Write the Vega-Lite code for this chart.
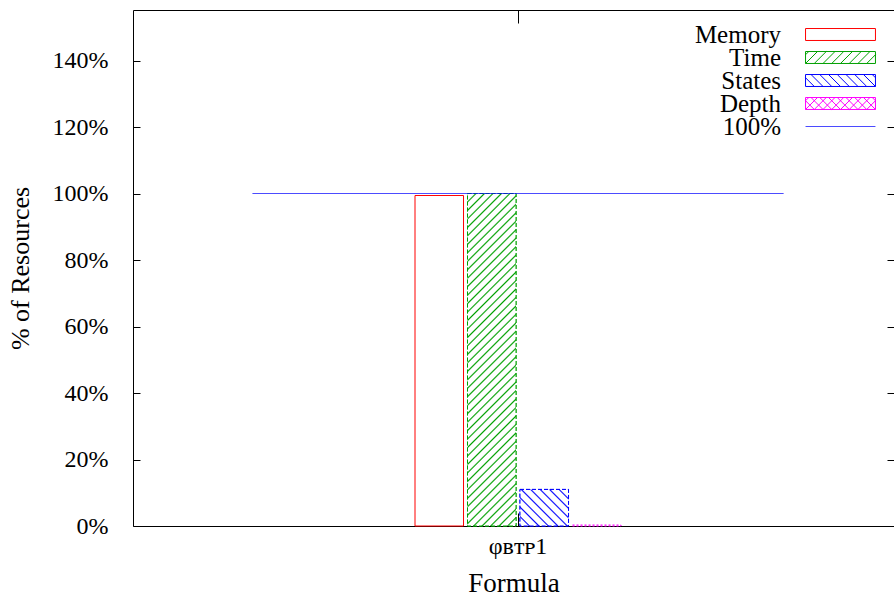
{
"$schema":"https://vega.github.io/schema/vega-lite/v6.json",
"width":761,"height":516,
"autosize":{"type":"none"},
"padding":{"left":133,"top":10,"right":0,"bottom":74},
"background":"white",
"config":{
"font":"Liberation Serif",
"view":{"stroke":null},
"axis":{"domainColor":"#000","tickColor":"#000","labelColor":"#000","titleColor":"#000","labelFont":"Liberation Serif","titleFont":"Liberation Serif","titleFontWeight":"normal","grid":false,"domainWidth":1,"tickWidth":1},
"legend":{"orient":"none","padding":0,"symbolSize":529,"symbolStrokeWidth":1,"labelFont":"Liberation Serif","labelFontSize":25,"labelColor":"#000","labelAlign":"right","labelOffset":-72,"labelLimit":300}
},
"data":{"values":[
{"formula":"φʙᴛᴘ1","series":"Memory","pct":99.4},
{"formula":"φʙᴛᴘ1","series":"Time","pct":100},
{"formula":"φʙᴛᴘ1","series":"States","pct":11.0},
{"formula":"φʙᴛᴘ1","series":"Depth","pct":0.3},
{"formula":"φʙᴛᴘ1","series":"100%","pct":100}
]},
"layer":[
{
"transform":[{"filter":"datum.series === 'Memory'"}],
"mark":{"type":"bar","strokeWidth":1,"fill":"transparent"},
"encoding":{
"x":{"field":"formula","type":"nominal","scale":{"paddingInner":0.2377,"paddingOuter":1,"align":0.5082},"axis":{"orient":"bottom","title":"Formula","labelAngle":0,"tickSize":-13,"labelPadding":40,"labelBaseline":"alphabetic","titlePadding":12,"labelFontSize":24,"titleFontSize":27,"labelLimit":300}},
"xOffset":{"field":"series","type":"nominal","scale":{"domain":["Memory","Time","States","Depth"],"paddingInner":0.076,"paddingOuter":0.038}},
"y":{"field":"pct","type":"quantitative","scale":{"domain":[0,155.19],"nice":false},"axis":{"orient":"left","title":"% of Resources","values":[0,20,40,60,80,100,120,140],"labelExpr":"datum.value + '%'","tickSize":-7,"labelPadding":32,"titlePadding":19,"labelFontSize":24,"titleFontSize":26}},
"stroke":{"field":"series","type":"nominal","scale":{"domain":["Memory"],"range":["#ff0000"]},"legend":{"title":null,"legendX":695,"legendY":12,"symbolType":"M-3.04,-0.52H3.04V0.52H-3.04Z"}}
}
},
{
"transform":[{"filter":"datum.series === 'Time'"}],
"mark":{"type":"bar","strokeWidth":1,"fill":"#ffffff","strokeDash":[4,2]},
"encoding":{
"x":{"field":"formula","type":"nominal","scale":{"paddingInner":0.2377,"paddingOuter":1,"align":0.5082},"axis":null},
"xOffset":{"field":"series","type":"nominal","scale":{"domain":["Memory","Time","States","Depth"],"paddingInner":0.076,"paddingOuter":0.038}},
"y":{"field":"pct","type":"quantitative","scale":{"domain":[0,155.19],"nice":false},"axis":null},
"stroke":{"field":"series","type":"nominal","scale":{"domain":["Time"],"range":["#00a000"]},"legend":{"title":null,"legendX":695,"legendY":35,"symbolType":"M-3.04,-0.52H3.04V0.52H-3.04ZM-3.04,-0.24L-2.76,-0.52M-3.04,0.52L-2,-0.52M-2.28,0.52L-1.24,-0.52M-1.52,0.52L-0.48,-0.52M-0.76,0.52L0.28,-0.52M0,0.52L1.04,-0.52M0.76,0.52L1.8,-0.52M1.52,0.52L2.56,-0.52M2.28,0.52L3.04,-0.24"}}
}
},
{
"transform":[{"filter":"datum.series === 'Time'"}],
"mark":{"type":"bar","strokeWidth":1,"stroke":"#00a000","strokeDash":[4,2],"fill":{"gradient":"linear","x1":0,"y1":0,"x2":0.1635,"y2":1.122,"stops":[
{"offset":0,"color":"#00a000"},{"offset":0.0042,"color":"#fff"},
{"offset":0.0180,"color":"#fff"},{"offset":0.0222,"color":"#00a000"},{"offset":0.0264,"color":"#fff"},
{"offset":0.0402,"color":"#fff"},{"offset":0.0444,"color":"#00a000"},{"offset":0.0486,"color":"#fff"},
{"offset":0.0625,"color":"#fff"},{"offset":0.0667,"color":"#00a000"},{"offset":0.0709,"color":"#fff"},
{"offset":0.0847,"color":"#fff"},{"offset":0.0889,"color":"#00a000"},{"offset":0.0931,"color":"#fff"},
{"offset":0.1069,"color":"#fff"},{"offset":0.1111,"color":"#00a000"},{"offset":0.1153,"color":"#fff"},
{"offset":0.1291,"color":"#fff"},{"offset":0.1333,"color":"#00a000"},{"offset":0.1375,"color":"#fff"},
{"offset":0.1514,"color":"#fff"},{"offset":0.1556,"color":"#00a000"},{"offset":0.1598,"color":"#fff"},
{"offset":0.1736,"color":"#fff"},{"offset":0.1778,"color":"#00a000"},{"offset":0.1820,"color":"#fff"},
{"offset":0.1958,"color":"#fff"},{"offset":0.2000,"color":"#00a000"},{"offset":0.2042,"color":"#fff"},
{"offset":0.2180,"color":"#fff"},{"offset":0.2222,"color":"#00a000"},{"offset":0.2264,"color":"#fff"},
{"offset":0.2402,"color":"#fff"},{"offset":0.2444,"color":"#00a000"},{"offset":0.2486,"color":"#fff"},
{"offset":0.2625,"color":"#fff"},{"offset":0.2667,"color":"#00a000"},{"offset":0.2709,"color":"#fff"},
{"offset":0.2847,"color":"#fff"},{"offset":0.2889,"color":"#00a000"},{"offset":0.2931,"color":"#fff"},
{"offset":0.3069,"color":"#fff"},{"offset":0.3111,"color":"#00a000"},{"offset":0.3153,"color":"#fff"},
{"offset":0.3291,"color":"#fff"},{"offset":0.3333,"color":"#00a000"},{"offset":0.3375,"color":"#fff"},
{"offset":0.3514,"color":"#fff"},{"offset":0.3556,"color":"#00a000"},{"offset":0.3598,"color":"#fff"},
{"offset":0.3736,"color":"#fff"},{"offset":0.3778,"color":"#00a000"},{"offset":0.3820,"color":"#fff"},
{"offset":0.3958,"color":"#fff"},{"offset":0.4000,"color":"#00a000"},{"offset":0.4042,"color":"#fff"},
{"offset":0.4180,"color":"#fff"},{"offset":0.4222,"color":"#00a000"},{"offset":0.4264,"color":"#fff"},
{"offset":0.4402,"color":"#fff"},{"offset":0.4444,"color":"#00a000"},{"offset":0.4486,"color":"#fff"},
{"offset":0.4625,"color":"#fff"},{"offset":0.4667,"color":"#00a000"},{"offset":0.4709,"color":"#fff"},
{"offset":0.4847,"color":"#fff"},{"offset":0.4889,"color":"#00a000"},{"offset":0.4931,"color":"#fff"},
{"offset":0.5069,"color":"#fff"},{"offset":0.5111,"color":"#00a000"},{"offset":0.5153,"color":"#fff"},
{"offset":0.5291,"color":"#fff"},{"offset":0.5333,"color":"#00a000"},{"offset":0.5375,"color":"#fff"},
{"offset":0.5514,"color":"#fff"},{"offset":0.5556,"color":"#00a000"},{"offset":0.5598,"color":"#fff"},
{"offset":0.5736,"color":"#fff"},{"offset":0.5778,"color":"#00a000"},{"offset":0.5820,"color":"#fff"},
{"offset":0.5958,"color":"#fff"},{"offset":0.6000,"color":"#00a000"},{"offset":0.6042,"color":"#fff"},
{"offset":0.6180,"color":"#fff"},{"offset":0.6222,"color":"#00a000"},{"offset":0.6264,"color":"#fff"},
{"offset":0.6402,"color":"#fff"},{"offset":0.6444,"color":"#00a000"},{"offset":0.6486,"color":"#fff"},
{"offset":0.6625,"color":"#fff"},{"offset":0.6667,"color":"#00a000"},{"offset":0.6709,"color":"#fff"},
{"offset":0.6847,"color":"#fff"},{"offset":0.6889,"color":"#00a000"},{"offset":0.6931,"color":"#fff"},
{"offset":0.7069,"color":"#fff"},{"offset":0.7111,"color":"#00a000"},{"offset":0.7153,"color":"#fff"},
{"offset":0.7291,"color":"#fff"},{"offset":0.7333,"color":"#00a000"},{"offset":0.7375,"color":"#fff"},
{"offset":0.7514,"color":"#fff"},{"offset":0.7556,"color":"#00a000"},{"offset":0.7598,"color":"#fff"},
{"offset":0.7736,"color":"#fff"},{"offset":0.7778,"color":"#00a000"},{"offset":0.7820,"color":"#fff"},
{"offset":0.7958,"color":"#fff"},{"offset":0.8000,"color":"#00a000"},{"offset":0.8042,"color":"#fff"},
{"offset":0.8180,"color":"#fff"},{"offset":0.8222,"color":"#00a000"},{"offset":0.8264,"color":"#fff"},
{"offset":0.8402,"color":"#fff"},{"offset":0.8444,"color":"#00a000"},{"offset":0.8486,"color":"#fff"},
{"offset":0.8625,"color":"#fff"},{"offset":0.8667,"color":"#00a000"},{"offset":0.8709,"color":"#fff"},
{"offset":0.8847,"color":"#fff"},{"offset":0.8889,"color":"#00a000"},{"offset":0.8931,"color":"#fff"},
{"offset":0.9069,"color":"#fff"},{"offset":0.9111,"color":"#00a000"},{"offset":0.9153,"color":"#fff"},
{"offset":0.9291,"color":"#fff"},{"offset":0.9333,"color":"#00a000"},{"offset":0.9375,"color":"#fff"},
{"offset":0.9514,"color":"#fff"},{"offset":0.9556,"color":"#00a000"},{"offset":0.9598,"color":"#fff"},
{"offset":0.9736,"color":"#fff"},{"offset":0.9778,"color":"#00a000"},{"offset":0.9820,"color":"#fff"},
{"offset":0.9958,"color":"#fff"},{"offset":1,"color":"#00a000"}
]}},
"encoding":{
"x":{"field":"formula","type":"nominal","scale":{"paddingInner":0.2377,"paddingOuter":1,"align":0.5082},"axis":null},
"xOffset":{"field":"series","type":"nominal","scale":{"domain":["Memory","Time","States","Depth"],"paddingInner":0.076,"paddingOuter":0.038}},
"y":{"field":"pct","type":"quantitative","scale":{"domain":[0,155.19],"nice":false},"axis":null}
}
},
{
"transform":[{"filter":"datum.series === 'States'"}],
"mark":{"type":"bar","strokeWidth":1,"fill":"#ffffff","strokeDash":[4,2]},
"encoding":{
"x":{"field":"formula","type":"nominal","scale":{"paddingInner":0.2377,"paddingOuter":1,"align":0.5082},"axis":null},
"xOffset":{"field":"series","type":"nominal","scale":{"domain":["Memory","Time","States","Depth"],"paddingInner":0.076,"paddingOuter":0.038}},
"y":{"field":"pct","type":"quantitative","scale":{"domain":[0,155.19],"nice":false},"axis":null},
"stroke":{"field":"series","type":"nominal","scale":{"domain":["States"],"range":["#0000ff"]},"legend":{"title":null,"legendX":695,"legendY":58,"symbolType":"M-3.04,-0.52H3.04V0.52H-3.04ZM3.04,-0.24L2.76,-0.52M3.04,0.52L2,-0.52M2.28,0.52L1.24,-0.52M1.52,0.52L0.48,-0.52M0.76,0.52L-0.28,-0.52M0,0.52L-1.04,-0.52M-0.76,0.52L-1.8,-0.52M-1.52,0.52L-2.56,-0.52M-2.28,0.52L-3.04,-0.24"}}
}
},
{
"transform":[{"filter":"datum.series === 'States'"}],
"mark":{"type":"bar","strokeWidth":1,"stroke":"#0000ff","strokeDash":[4,2],"fill":{"gradient":"linear","x1":0,"y1":1,"x2":1.1179,"y2":0.1562,"stops":[
{"offset":0,"color":"#0000ff"},{"offset":0.018,"color":"#fff"},
{"offset":0.0931,"color":"#fff"},{"offset":0.1111,"color":"#0000ff"},{"offset":0.1291,"color":"#fff"},
{"offset":0.2042,"color":"#fff"},{"offset":0.2222,"color":"#0000ff"},{"offset":0.2402,"color":"#fff"},
{"offset":0.3153,"color":"#fff"},{"offset":0.3333,"color":"#0000ff"},{"offset":0.3513,"color":"#fff"},
{"offset":0.4264,"color":"#fff"},{"offset":0.4444,"color":"#0000ff"},{"offset":0.4624,"color":"#fff"},
{"offset":0.5376,"color":"#fff"},{"offset":0.5556,"color":"#0000ff"},{"offset":0.5736,"color":"#fff"},
{"offset":0.6487,"color":"#fff"},{"offset":0.6667,"color":"#0000ff"},{"offset":0.6847,"color":"#fff"},
{"offset":0.7598,"color":"#fff"},{"offset":0.7778,"color":"#0000ff"},{"offset":0.7958,"color":"#fff"},
{"offset":0.8709,"color":"#fff"},{"offset":0.8889,"color":"#0000ff"},{"offset":0.9069,"color":"#fff"},
{"offset":0.982,"color":"#fff"},{"offset":1,"color":"#0000ff"}
]}},
"encoding":{
"x":{"field":"formula","type":"nominal","scale":{"paddingInner":0.2377,"paddingOuter":1,"align":0.5082},"axis":null},
"xOffset":{"field":"series","type":"nominal","scale":{"domain":["Memory","Time","States","Depth"],"paddingInner":0.076,"paddingOuter":0.038}},
"y":{"field":"pct","type":"quantitative","scale":{"domain":[0,155.19],"nice":false},"axis":null}
}
},
{
"transform":[{"filter":"datum.series === 'Depth'"}],
"mark":{"type":"bar","strokeWidth":1,"fill":"transparent","strokeDash":[2,2]},
"encoding":{
"x":{"field":"formula","type":"nominal","scale":{"paddingInner":0.2377,"paddingOuter":1,"align":0.5082},"axis":null},
"xOffset":{"field":"series","type":"nominal","scale":{"domain":["Memory","Time","States","Depth"],"paddingInner":0.076,"paddingOuter":0.038}},
"y":{"field":"pct","type":"quantitative","scale":{"domain":[0,155.19],"nice":false},"axis":null},
"stroke":{"field":"series","type":"nominal","scale":{"domain":["Depth"],"range":["#ff00ff"]},"legend":{"title":null,"legendX":695,"legendY":81,"symbolType":"M-3.04,-0.52H3.04V0.52H-3.04ZM-3.04,-0.24L-2.76,-0.52M-3.04,0.52L-2,-0.52M-2.28,0.52L-1.24,-0.52M-1.52,0.52L-0.48,-0.52M-0.76,0.52L0.28,-0.52M0,0.52L1.04,-0.52M0.76,0.52L1.8,-0.52M1.52,0.52L2.56,-0.52M2.28,0.52L3.04,-0.24M3.04,-0.24L2.76,-0.52M3.04,0.52L2,-0.52M2.28,0.52L1.24,-0.52M1.52,0.52L0.48,-0.52M0.76,0.52L-0.28,-0.52M0,0.52L-1.04,-0.52M-0.76,0.52L-1.8,-0.52M-1.52,0.52L-2.56,-0.52M-2.28,0.52L-3.04,-0.24"}}
}
},
{
"transform":[{"filter":"datum.series === '100%'"}],
"mark":{"type":"tick","filled":false,"strokeWidth":1.2,"size":530,"thickness":0.01,"orient":"horizontal"},
"encoding":{
"x":{"field":"formula","type":"nominal","scale":{"paddingInner":0.2377,"paddingOuter":1,"align":0.5082},"axis":{"orient":"top","labels":false,"title":null,"tickSize":-13,"domain":true}},
"y":{"field":"pct","type":"quantitative","scale":{"domain":[0,155.19],"nice":false},"axis":{"orient":"right","labels":false,"title":null,"tickSize":-7,"domain":false,"values":[0,20,40,60,80,100,120,140]}},
"stroke":{"field":"series","type":"nominal","scale":{"domain":["100%"],"range":["#0000ff"]},"legend":{"title":null,"legendX":695,"legendY":104,"symbolType":"M-3.04,0H3.04"}}
}
}
],
"resolve":{"scale":{"stroke":"independent"},"legend":{"stroke":"independent"},"axis":{"x":"independent","y":"independent"}}
}
